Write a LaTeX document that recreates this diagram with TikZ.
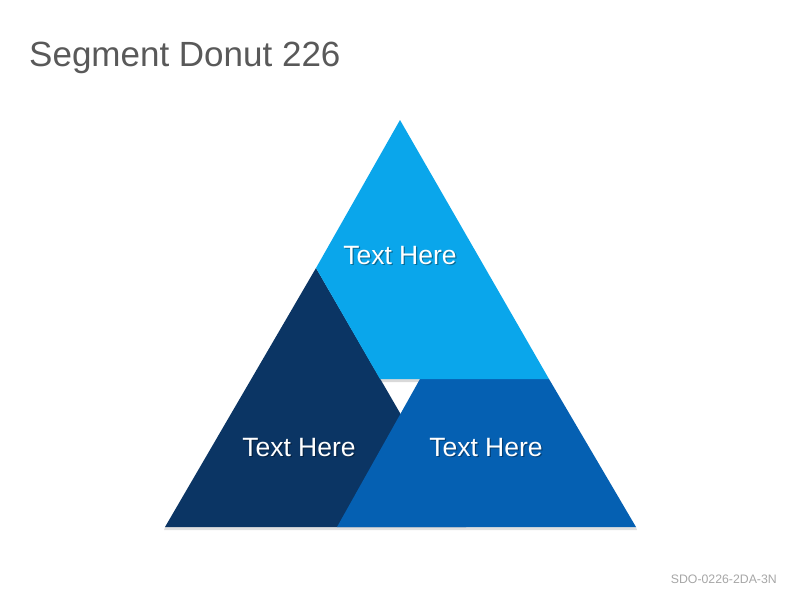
\documentclass[tikz,border=0pt]{standalone}
\usepackage{fontspec}
\setmainfont{Liberation Sans}
\definecolor{lightblue}{HTML}{0AA6EB}
\definecolor{navy}{HTML}{0B3564}
\definecolor{midblue}{HTML}{0560B2}
\definecolor{titlegray}{HTML}{595959}
\definecolor{footgray}{HTML}{A6A6A6}
\begin{document}
\begin{tikzpicture}[x=1pt,y=-1pt,
  seg/.style={draw=none},
  lbl/.style={text=white,font=\fontsize{26.5}{30}\selectfont,anchor=base},
  lblshadow/.style={text=black,opacity=0.35,font=\fontsize{26.5}{30}\selectfont,anchor=base}]
\useasboundingbox (0,0) rectangle (800,600);
% coordinates
\coordinate (apex) at (400,120);
\coordinate (bl) at (165,527);
\coordinate (br) at (636,527);
\coordinate (lm) at (316,268);
\coordinate (rm) at (549,379);
\coordinate (gapl) at (380,379);
\coordinate (gapr) at (420,379);
\coordinate (darkbr) at (466,527);
\coordinate (midbl) at (337,527);
% shadows
\fill[black,opacity=0.12] (165,527) -- (636,527) -- (637,530) -- (164,530) -- cycle;
\fill[black,opacity=0.15] (380,379) -- (420,379) -- (419,382) -- (382,382) -- cycle;
% dark segment
\fill[navy,seg] (lm) -- (bl) -- (darkbr) -- cycle;
% mid segment
\fill[midblue,seg] (gapr) -- (rm) -- (br) -- (midbl) -- cycle;
% light segment
\fill[lightblue,seg] (apex) -- (rm) -- (gapl) -- (lm) -- cycle;
% labels
\node[lblshadow] (t1s) at (401.2,265.5) {Text Here};
\node[lbl] (t1) at (400,264) {Text Here};
\node[lblshadow] (t2s) at (300.2,457.5) {Text Here};
\node[lbl] (t2) at (299,456) {Text Here};
\node[lblshadow] (t3s) at (487.2,457.5) {Text Here};
\node[lbl] (t3) at (486,456) {Text Here};
% title and footer
\node[anchor=base west,inner sep=0pt,text=titlegray,font=\fontsize{35}{40}\selectfont] (title) at (29,66) {Segment Donut 226};
\node[anchor=base east,inner sep=0pt,text=footgray,font=\fontsize{12.3}{14}\selectfont] (foot) at (777,583) {SDO-0226-2DA-3N};
\end{tikzpicture}
\end{document}
